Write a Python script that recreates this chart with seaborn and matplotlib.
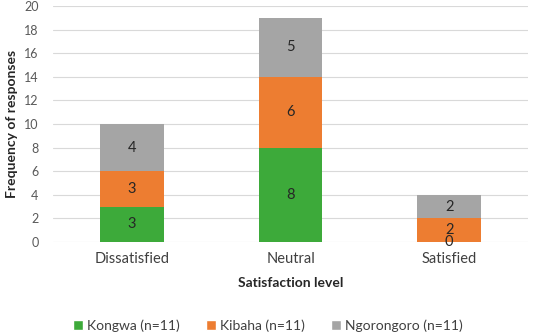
import numpy as np
import pandas as pd
import matplotlib
matplotlib.use("Agg")
import matplotlib.pyplot as plt
from matplotlib.patches import Patch
import seaborn as sns

# ---------------------- 数据 ----------------------
levels = ["Dissatisfied", "Neutral", "Satisfied"]
kongwa = [3, 8, 0]
kibaha = [3, 6, 2]
ngorongoro = [4, 5, 2]
series_names = ["Kongwa (n=11)", "Kibaha (n=11)", "Ngorongoro (n=11)"]
colors = ["#3DAA3A", "#ED7D31", "#A5A5A5"]

sns.set_style("white")
plt.rcParams["font.family"] = ["Lato", "DejaVu Sans"]

fig = plt.figure(figsize=(5.36, 3.36), dpi=100)
ax = fig.add_axes([0.098, 0.28, 0.888, 0.702])

bottom = np.zeros(len(levels))
for vals, name, col in zip([kongwa, kibaha, ngorongoro], series_names, colors):
    df = pd.DataFrame({"level": levels, "count": vals})
    sns.barplot(data=df, x="level", y="count", color=col, width=0.4,
                bottom=bottom, ax=ax, saturation=1, linewidth=0)
    bottom = bottom + np.array(vals)

for cont in ax.containers:
    ax.bar_label(cont, label_type="center", fontsize=10.5, color="#262626")

ax.set_ylim(0, 20)
ax.set_yticks(range(0, 21, 2))
ax.set_xlim(-0.5, 2.5)
ax.yaxis.grid(True, color="#D9D9D9", linewidth=0.8)
ax.set_axisbelow(True)
for s in ax.spines.values():
    s.set_visible(False)
ax.tick_params(axis="y", labelsize=9, colors="#595959", length=0, pad=10)
ax.tick_params(axis="x", labelsize=10.5, colors="#404040", length=0, pad=7)
ax.set_ylabel("Frequency of responses", fontsize=10, fontweight="bold", color="#262626")
ax.set_xlabel("Satisfaction level", fontsize=10, fontweight="bold", color="#262626", labelpad=8)
ax.yaxis.set_label_coords(-0.072, 0.5)

handles = [Patch(facecolor=c, label=n) for c, n in zip(colors, series_names)]
fig.legend(handles=handles, loc="lower center", bbox_to_anchor=(0.5, -0.025), ncol=3,
           frameon=False, fontsize=10, handlelength=0.7, handleheight=0.7,
           handletextpad=0.3, columnspacing=1.9, labelcolor="#404040")

fig.savefig("out.png", dpi=100)
